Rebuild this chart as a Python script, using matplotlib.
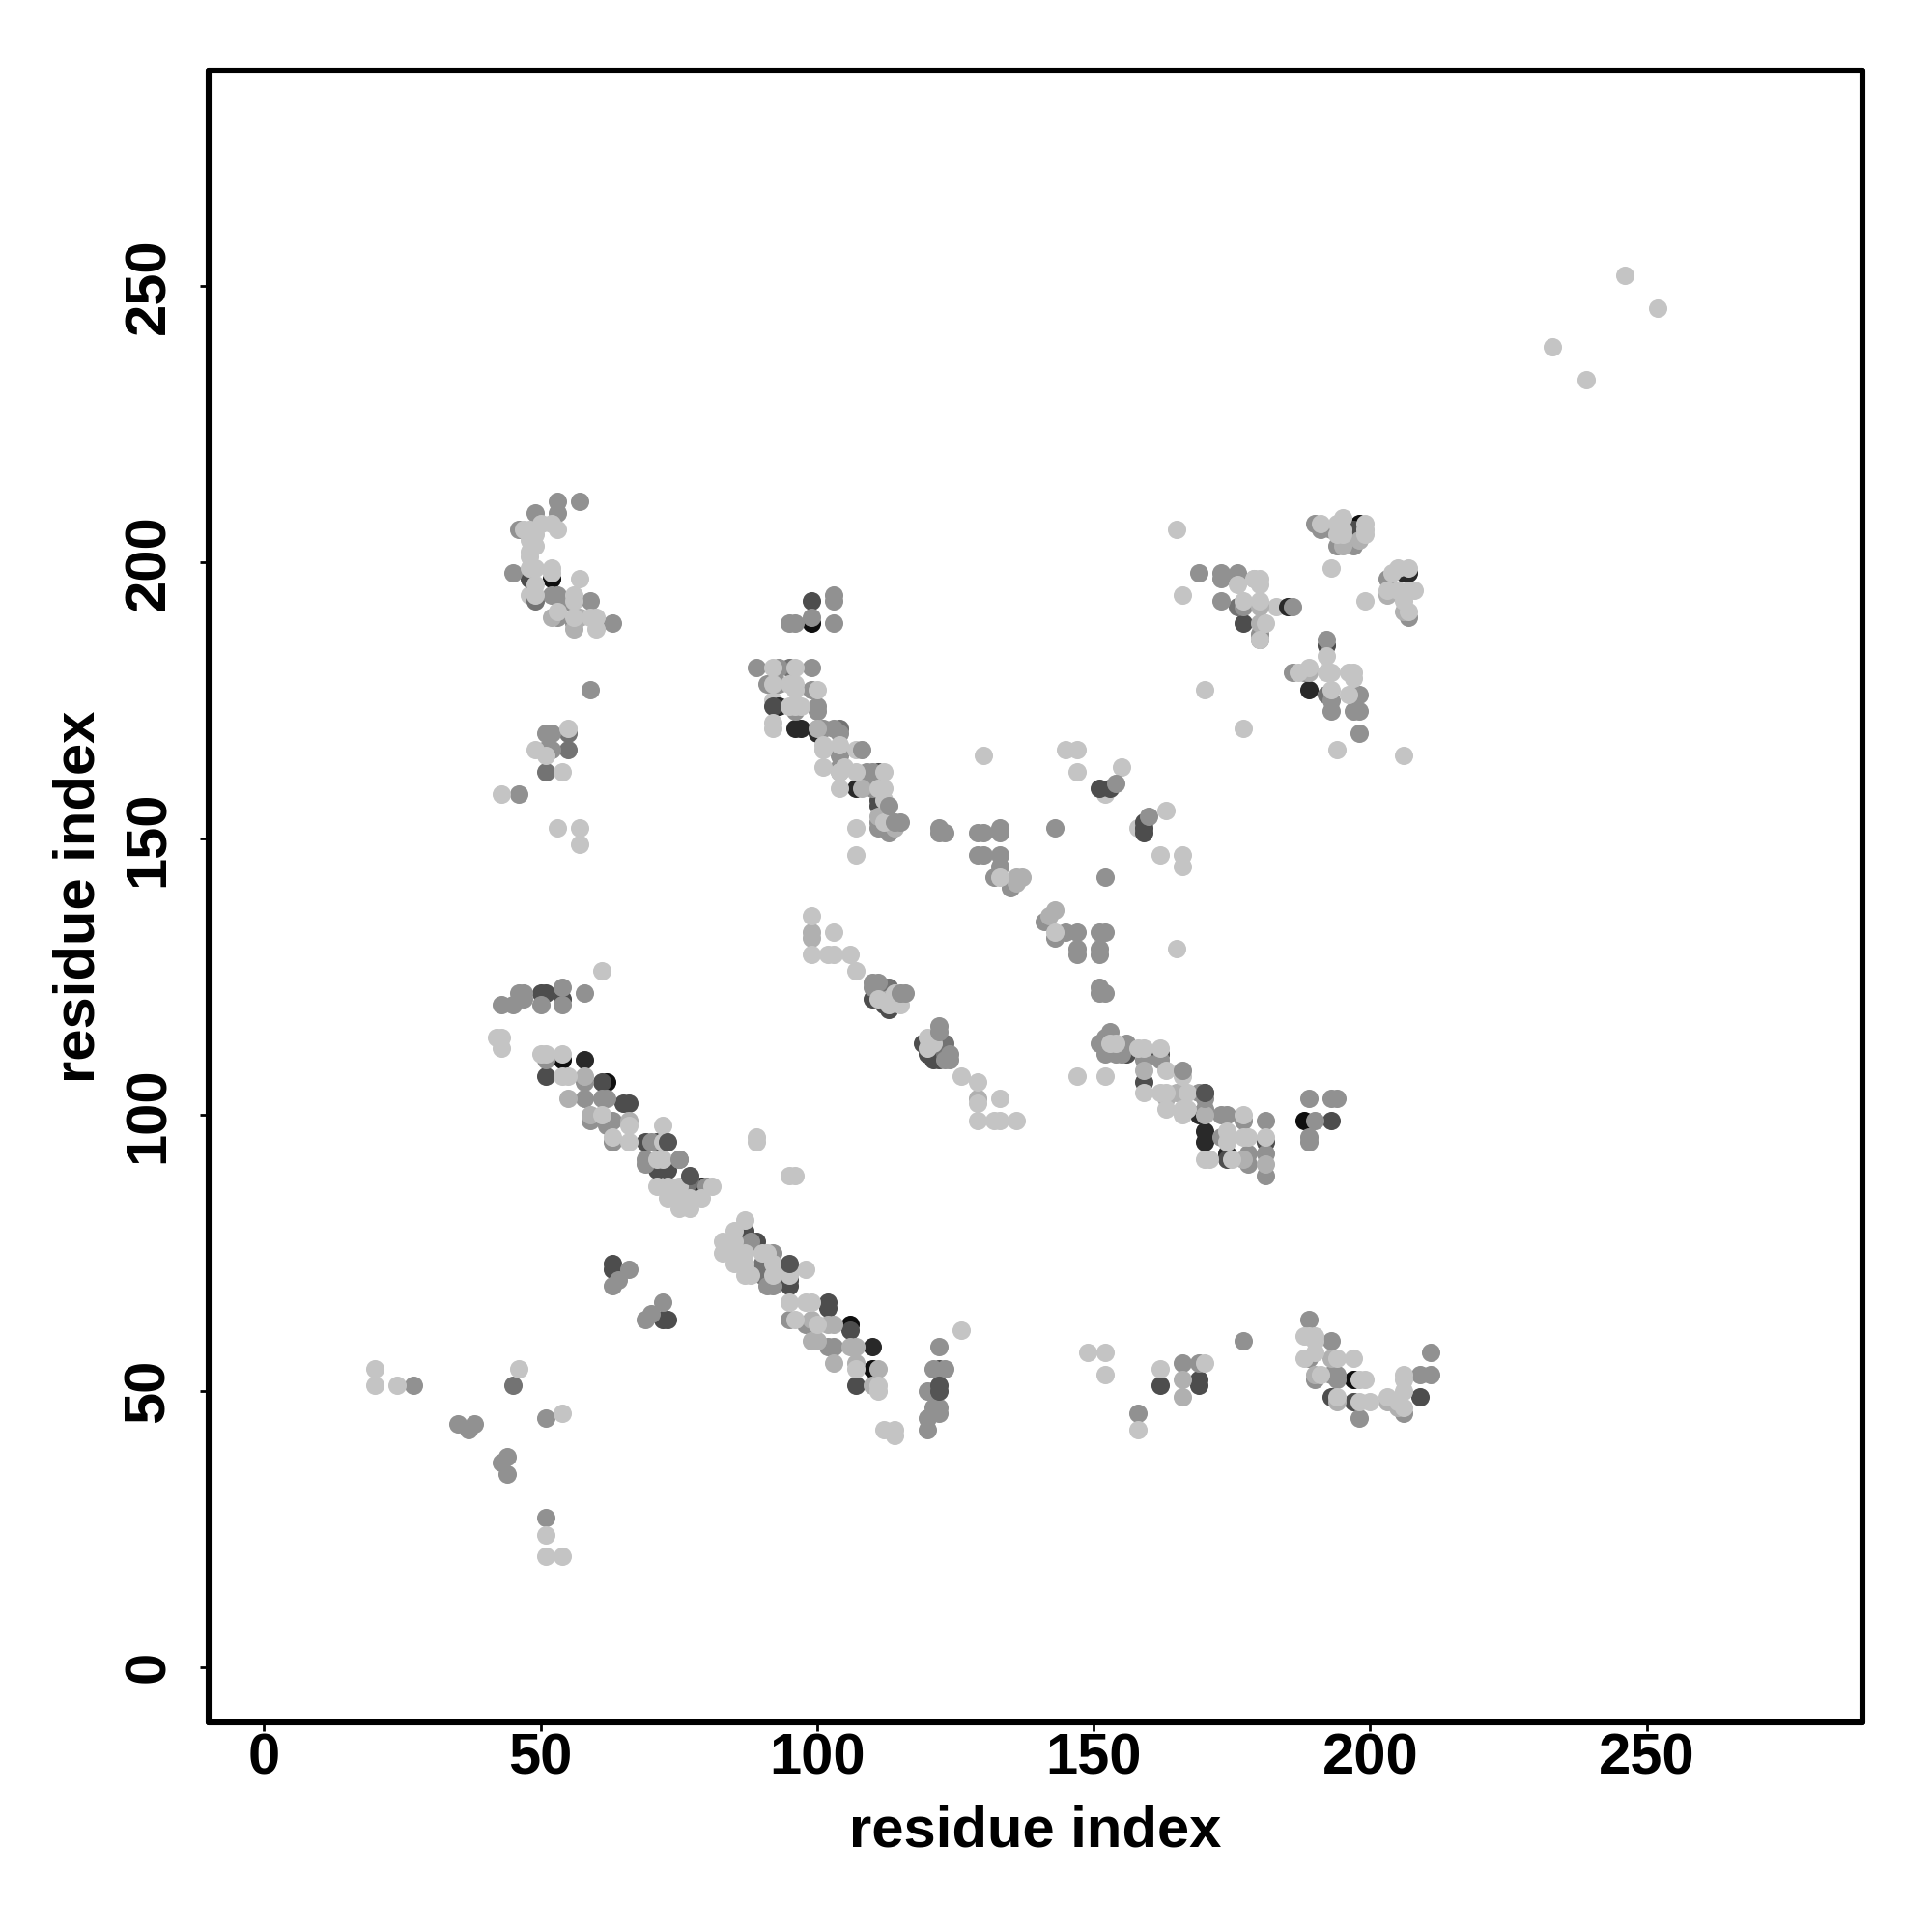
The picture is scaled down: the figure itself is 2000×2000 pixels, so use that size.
import matplotlib
matplotlib.use("Agg")
import matplotlib.pyplot as plt

# contact points (residue i, residue j), one list per grey level
under_light = [(152, 158), (158, 152), (183, 192), (92, 175), (100, 170), (48, 194), (179, 197)]

black = [(52, 197), (99, 189), (54, 110), (62, 106), (106, 62), (110, 54), (198, 207), (198, 206),
         (188, 99), (197, 52)]

very_dark = [(96, 170), (97, 170), (58, 110), (107, 159), (110, 58), (79, 87), (170, 97), (170, 95),
             (169, 100), (174, 93), (207, 198), (206, 198), (189, 177), (93, 174), (100, 169), (185, 192)]

dark = [(99, 193), (92, 174), (48, 197), (87, 79), (87, 78), (89, 77), (95, 70), (95, 69), (102, 66),
        (102, 65), (106, 61), (107, 51), (54, 121), (50, 122), (51, 122), (51, 107), (61, 106), (65, 102),
        (66, 102), (69, 95), (71, 95), (71, 90), (73, 90), (111, 162), (111, 157), (111, 156), (151, 159),
        (153, 159), (159, 153), (159, 152), (159, 151), (156, 111), (162, 111), (159, 106), (174, 92),
        (177, 189), (192, 185), (193, 99), (162, 51), (169, 52), (169, 51), (63, 73), (63, 72), (72, 63),
        (73, 63), (121, 50), (122, 54), (119, 113), (120, 111), (121, 110), (122, 110), (113, 119),
        (110, 121), (112, 120), (193, 49), (197, 48), (209, 49), (181, 95), (197, 206)]

dark_mid = [(49, 193), (95, 181), (104, 170), (51, 162), (55, 169), (55, 166), (77, 88), (90, 73),
            (90, 71), (176, 192), (192, 176), (112, 123), (113, 123), (123, 113), (123, 111), (170, 104),
            (45, 51)]

mid = [(53, 211), (57, 211), (53, 209), (49, 209), (46, 206), (45, 198), (52, 194), (53, 194), (59, 193),
       (55, 193), (53, 190), (56, 189), (63, 189), (59, 177), (51, 169), (52, 169), (51, 166), (52, 166),
       (46, 158), (103, 194), (103, 193), (95, 189), (96, 189), (99, 190), (103, 189), (89, 181), (93, 181),
       (99, 181), (91, 178), (93, 178), (99, 177), (100, 174), (100, 173), (96, 173), (101, 170), (103, 170),
       (104, 169), (104, 165), (104, 163), (109, 162), (110, 162), (110, 159), (111, 153), (111, 152),
       (112, 152), (113, 151), (122, 152), (122, 151), (123, 151), (129, 151), (130, 151), (133, 152),
       (133, 151), (129, 147), (130, 147), (133, 147), (133, 145), (132, 143), (135, 141), (143, 152),
       (152, 143), (141, 135), (143, 132), (145, 133), (147, 133), (151, 133), (152, 133), (147, 130),
       (147, 129), (151, 130), (151, 129), (151, 123), (151, 122), (152, 122), (169, 198), (173, 198),
       (173, 197), (176, 198), (173, 193), (177, 192), (186, 192), (180, 187), (180, 186), (190, 207),
       (191, 206), (193, 206), (194, 203), (197, 203), (203, 197), (207, 190), (192, 186), (186, 180),
       (188, 180), (193, 175), (198, 176), (193, 173), (197, 173), (198, 173), (198, 169), (58, 122),
       (54, 123), (54, 120), (50, 120), (46, 122), (47, 122), (47, 121), (45, 120), (43, 120), (51, 110),
       (58, 106), (58, 103), (61, 103), (62, 103), (59, 99), (62, 98), (63, 99), (63, 95), (70, 95), (69, 92),
       (69, 91), (75, 92), (80, 87), (88, 77), (92, 75), (91, 69), (92, 69), (94, 72), (95, 63), (98, 62),
       (102, 58), (103, 58), (122, 58), (121, 54), (123, 54), (120, 50), (122, 47), (121, 47), (122, 46),
       (120, 45), (120, 43), (153, 115), (152, 114), (151, 113), (152, 111), (156, 113), (154, 111),
       (155, 111), (159, 110), (162, 110), (169, 104), (170, 101), (173, 100), (174, 100), (177, 99),
       (181, 99), (173, 96), (178, 93), (181, 93), (178, 91), (181, 89), (189, 103), (193, 103), (194, 103),
       (190, 99), (189, 96), (189, 95), (189, 63), (193, 59), (189, 56), (190, 52), (194, 53), (194, 52),
       (193, 53), (198, 45), (206, 46), (209, 53), (211, 53), (211, 57), (27, 51), (35, 44), (37, 43),
       (38, 44), (43, 37), (44, 38), (44, 35), (51, 45), (51, 27), (66, 72), (63, 69), (64, 70), (69, 63),
       (70, 64), (72, 66), (158, 46), (166, 55), (169, 55), (177, 59), (110, 124), (111, 124), (110, 123)]

light_mid = [(100, 170), (136, 142), (137, 143), (136, 143), (142, 136), (143, 137), (104, 162), (108, 159),
             (111, 154), (114, 152), (180, 192), (180, 189), (195, 203), (198, 204), (203, 194), (206, 191),
             (189, 180), (52, 190), (57, 190), (56, 188), (55, 103), (59, 100), (66, 99), (58, 107), (99, 133),
             (99, 132), (129, 103), (159, 108), (163, 103), (165, 104), (170, 100), (177, 92), (181, 91),
             (190, 53), (193, 56), (203, 48), (205, 47), (194, 48), (99, 63), (102, 62), (103, 62), (99, 59),
             (100, 59), (106, 58), (107, 58), (103, 55), (107, 55), (111, 54), (110, 51), (166, 52), (166, 49),
             (113, 121)]

light = [(47, 206), (48, 206), (50, 207), (53, 206), (52, 207), (49, 205), (48, 204), (49, 203), (48, 202),
         (48, 201), (48, 199), (49, 199), (52, 199), (52, 198), (49, 196), (57, 197), (56, 194), (49, 194),
         (56, 193), (53, 191), (56, 190), (59, 190), (60, 190), (60, 188), (55, 170), (49, 166), (51, 165),
         (54, 162), (43, 158), (53, 152), (57, 152), (57, 149), (92, 181), (96, 181), (92, 178), (95, 178),
         (96, 178), (100, 177), (96, 177), (95, 174), (96, 174), (97, 174), (92, 171), (92, 170), (101, 167),
         (101, 166), (104, 167), (107, 166), (101, 163), (105, 163), (107, 162), (104, 162), (112, 162),
         (104, 159), (111, 159), (112, 159), (112, 157), (112, 153), (107, 152), (107, 147), (133, 143),
         (130, 165), (145, 166), (147, 166), (147, 162), (155, 163), (163, 155), (162, 147), (166, 147),
         (166, 145), (166, 194), (143, 133), (165, 130), (99, 136), (99, 129), (103, 133), (102, 129),
         (103, 129), (106, 129), (107, 126), (165, 206), (176, 196), (179, 197), (180, 197), (180, 196),
         (177, 193), (180, 193), (181, 189), (180, 186), (191, 207), (194, 207), (195, 208), (195, 206),
         (194, 205), (195, 205), (199, 207), (199, 206), (199, 205), (193, 199), (199, 193), (207, 199),
         (205, 199), (204, 198), (203, 195), (205, 195), (207, 195), (208, 195), (206, 193), (207, 191),
         (192, 183), (187, 180), (189, 181), (192, 180), (193, 180), (196, 180), (197, 180), (197, 179),
         (193, 177), (196, 176), (170, 177), (177, 170), (194, 166), (206, 165), (61, 126), (42, 114),
         (43, 114), (43, 112), (50, 111), (51, 111), (54, 111), (54, 107), (55, 107), (61, 100), (66, 98),
         (63, 96), (66, 95), (72, 98), (72, 95), (71, 92), (72, 92), (71, 87), (73, 87), (75, 87), (81, 87),
         (79, 85), (73, 85), (75, 85), (77, 85), (75, 83), (77, 83), (89, 96), (89, 95), (95, 89), (96, 89),
         (87, 81), (85, 79), (83, 77), (83, 75), (85, 77), (85, 75), (85, 73), (87, 75), (87, 73), (87, 71),
         (88, 71), (90, 75), (91, 75), (92, 73), (92, 71), (95, 72), (95, 71), (98, 72), (95, 66), (98, 66),
         (99, 66), (96, 63), (100, 62), (107, 54), (111, 51), (111, 50), (112, 43), (114, 43), (114, 42),
         (126, 61), (153, 113), (154, 113), (158, 112), (159, 112), (162, 112), (163, 108), (166, 107),
         (159, 104), (162, 104), (163, 104), (167, 104), (163, 101), (166, 101), (166, 100), (167, 101),
         (177, 100), (174, 97), (174, 95), (177, 96), (178, 96), (181, 96), (170, 92), (171, 92), (175, 92),
         (147, 107), (152, 107), (188, 60), (189, 60), (190, 60), (190, 59), (188, 56), (190, 57), (194, 56),
         (197, 56), (191, 53), (198, 52), (199, 52), (194, 49), (198, 48), (200, 48), (203, 49), (205, 48),
         (206, 53), (206, 52), (206, 50), (206, 47), (20, 54), (20, 51), (24, 51), (46, 54), (54, 46), (51, 24),
         (51, 20), (54, 20), (149, 57), (152, 57), (152, 53), (158, 43), (162, 54), (170, 55), (233, 239),
         (239, 233), (246, 252), (252, 246), (115, 120), (113, 120), (114, 122), (111, 121), (120, 114),
         (120, 112), (121, 113), (126, 107), (129, 106), (129, 102), (133, 103), (129, 99), (132, 99),
         (133, 99), (136, 99)]

# drawn last: the few darker points that sit over lighter ones
top_mid = [(108, 166), (113, 156), (114, 153), (115, 153), (154, 160), (160, 154), (115, 122), (116, 122),
           (122, 116), (122, 115), (124, 111), (124, 110), (123, 110), (166, 108), (170, 103), (75, 92)]
top_dark = [(95, 73), (73, 95), (77, 89), (122, 51), (122, 50), (170, 104)]

ticks = [0, 50, 100, 150, 200, 250]

layers = [(under_light, "0.77"), (black, "0.06"), (very_dark, "0.16"), (dark, "0.30"), (dark_mid, "0.45"),
          (mid, "0.57"), (light_mid, "0.69"), (light, "0.77"), (top_mid, "0.57"), (top_dark, "0.33")]

plt.rcParams['font.family'] = ['Liberation Sans', 'DejaVu Sans']
plt.rcParams['font.weight'] = 'bold'

fig = plt.figure(figsize=(10, 10), dpi=200)
ax = fig.add_axes([216 / 2000, 1 - 1783 / 2000, 1712 / 2000, 1710 / 2000])

for pts, grey in layers:
    ax.scatter([p[0] for p in pts], [p[1] for p in pts], s=47, c=grey, linewidths=0, zorder=3)

ax.set_xlim(-10, 289)
ax.set_ylim(-10, 289)
ax.set_xticks(ticks)
ax.set_yticks(ticks)
ax.tick_params(axis='x', length=3.2, width=1, pad=0.5, labelsize=21.5)
ax.tick_params(axis='y', length=3.2, width=1, pad=9, labelsize=21.5)
for lab in ax.get_yticklabels():
    lab.set_rotation(90)
    lab.set_va('center')
for sp in ax.spines.values():
    sp.set_linewidth(2.2)
    sp.set_capstyle('round')

ax.set_xlabel("residue index", fontsize=21.5, fontweight='bold', va='baseline')
ax.set_ylabel("residue index", fontsize=21.5, fontweight='bold', va='baseline')
ax.xaxis.set_label_coords(0.5, -0.075)
ax.yaxis.set_label_coords(-0.0695, 0.5)

fig.savefig("out.png", dpi=200)
